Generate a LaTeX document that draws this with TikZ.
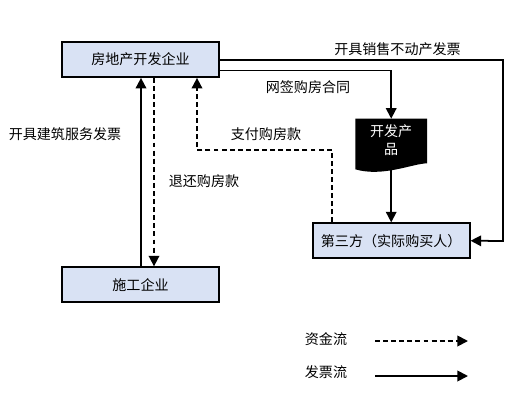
\documentclass[tikz,border=0pt]{standalone}
\usepackage{fontspec}
\usepackage{xcolor}
\setmainfont{Noto Sans CJK SC}
\usetikzlibrary{
    arrows.meta,
    positioning,
    calc,
    backgrounds
}
\definecolor{boxBlue}{RGB}{217,226,244}

\begin{document}
\begin{tikzpicture}[
  x=0.02cm, y=-0.02cm,
  box/.style={
    draw=black,
    fill=boxBlue,
    line width=1.0pt,
    minimum width=3.14cm,
    minimum height=0.70cm,
    align=center,
    inner sep=0pt,
    font=\fontsize{8}{10}\selectfont
  },
  lab/.style={
    inner sep=0pt,
    font=\fontsize{8}{10}\selectfont
  },
  arr/.style={
    -{Triangle[length=6pt,width=6pt]},
    line width=1.0pt
  },
  arrd/.style={
    arr,
    dash pattern=on 2.8pt off 1.8pt
  }
]
\useasboundingbox (0,0) rectangle (523,405);

%% --- Boxes ---
\node[box] (dev) at (140.5,59.5) {房地产开发企业};

\node[box, below=3.77cm of dev] (builder) {施工企业};

\node[box, below right=2.89cm and 1.84cm of dev] (buyer) {第三方（实际购买人）};

\node[above=1.00cm of buyer, minimum width=1.42cm, minimum height=1.06cm,
      align=center, inner sep=0pt, text=white, text depth=6.5pt,
      font=\fontsize{8}{10}\selectfont] (product) {开发产\\品};

%% --- Wavy sheet behind the product text ---
\begin{scope}[on background layer]
  \fill[black] (product.north west) -- (product.north east)
    -- ($(product.south east)+(0,-9)$)
    .. controls ($(product.south)+(22,-9)$) and ($(product.south)+(-8,5)$)
    .. ($(product.south west)+(0,-3)$) -- cycle;
\end{scope}
\coordinate (wave) at ($(product.south)+(0,-4)$);

%% --- Invoice and money between developer and builder ---
\draw[arr]  (builder.north -| 141,0) -- (dev.south -| 141,0);
\draw[arrd] (dev.south -| 154,0) -- (builder.north -| 154,0);

%% --- Developer to the right ---
\coordinate (devtop) at ($(dev.east)+(0,0.5)$);
\draw[arr] (devtop) -| (503,241) -- (buyer.east);
\coordinate (devlow) at ($(dev.east)+(0,11)$);
\draw[arr] (devlow) -| (product.north);
\draw[arr] (wave) -- (buyer.north -| wave);

%% --- Buyer pays ---
\draw[arrd] (buyer.north -| 332,0) |- (197,150) -- (dev.south -| 197,0);

%% --- Labels ---
\node[lab] (sellinv) at (397.5,49) {开具销售不动产发票};
\node[lab] (contract) at (308,87) {网签购房合同};
\node[lab] (pay) at (266,134) {支付购房款};
\node[lab] (refund) at (204,181) {退还购房款};
\node[lab] (buildinv) at (65,134) {开具建筑服务发票};

%% --- Legend ---
\node[lab] (money) at (326,339) {资金流};
\node[lab, below=0.38cm of money] (invoice) {发票流};
\coordinate (moneyend) at (468,341);
\coordinate (invoiceend) at (468,376);
\draw[arrd] (375,341) -- (moneyend);
\draw[arr]  (375,376) -- (invoiceend);

\end{tikzpicture}
\end{document}
